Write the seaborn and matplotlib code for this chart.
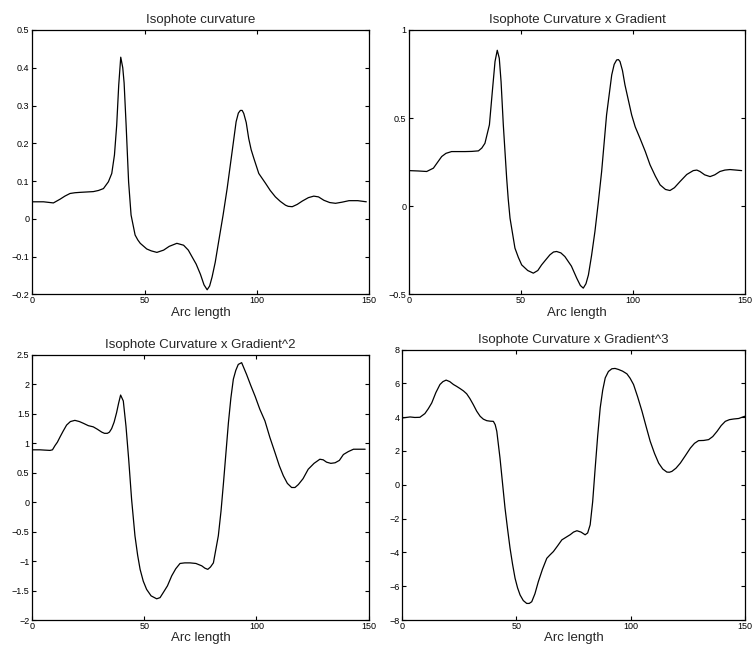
import matplotlib
matplotlib.use("Agg")
import matplotlib.pyplot as plt
import seaborn as sns
import pandas as pd

# ---- data ----
x1 = [0, 5, 9.4, 12.4, 14.5, 16.8, 19, 21.3, 27.2, 29.5, 31.7, 33.9, 35.4, 36.6, 37.6, 38.5,
      39.4, 40.3, 40.9, 41.8, 42.9, 44.0, 45.8, 47, 48.1, 51.0, 53, 55.5, 58.5, 61, 64.4, 67.4,
      69.5, 71.1, 73, 74.9, 76.5, 77.9, 79, 80.1, 81.5, 83.0, 85, 86.8, 89.0, 90.8, 91.8, 92.7,
      93.5, 94.2, 95.3, 96.4, 97.5, 98.7, 100.9, 103.9, 106, 108.3, 110.5, 112.8, 114, 115.8,
      118, 120.3, 123, 125.4, 127.5, 129.9, 132.5, 135.1, 138, 141.1, 145, 148.8]
y1 = [0.045, 0.045, 0.042, 0.052, 0.060, 0.067, 0.069, 0.070, 0.072, 0.075, 0.080, 0.098, 0.120,
      0.169, 0.248, 0.354, 0.428, 0.400, 0.360, 0.248, 0.098, 0.010, -0.043, -0.056, -0.065,
      -0.080, -0.085, -0.089, -0.083, -0.073, -0.065, -0.070, -0.083, -0.100, -0.120, -0.147,
      -0.175, -0.188, -0.178, -0.154, -0.115, -0.061, 0.010, 0.080, 0.177, 0.257, 0.280, 0.287,
      0.287, 0.279, 0.255, 0.213, 0.183, 0.160, 0.120, 0.094, 0.075, 0.058, 0.046, 0.036, 0.033,
      0.032, 0.038, 0.047, 0.056, 0.060, 0.058, 0.049, 0.043, 0.041, 0.044, 0.048, 0.048, 0.045]

x2 = [0, 4, 7.9, 10.9, 12.8, 14.6, 16.5, 19, 25, 28, 31, 32.5, 33.9, 35.9, 37.2, 38.4, 39.4,
      40.3, 41.1, 42.1, 43.6, 44.3, 45.1, 47.3, 48.8, 50.3, 53, 55.5, 57.5, 59.2, 61, 62.9, 64.5,
      65.9, 67.8, 69.6, 72.5, 74.9, 76.5, 77.8, 79, 80.1, 81.5, 83.0, 84.5, 86.0, 88.2, 90.5,
      91.6, 92.7, 93.5, 94.2, 95.3, 96.4, 99.4, 101, 103.1, 105.5, 107.6, 110, 112.1, 114.5,
      116.5, 118.5, 121, 124, 126.9, 128.5, 129.9, 132, 134.4, 136.5, 138.8, 141, 143.3, 146,
      148.5]
y2 = [0.202, 0.200, 0.197, 0.216, 0.250, 0.282, 0.300, 0.310, 0.310, 0.311, 0.314, 0.330,
      0.357, 0.462, 0.651, 0.821, 0.885, 0.840, 0.707, 0.462, 0.159, 0.040, -0.068, -0.238,
      -0.290, -0.333, -0.365, -0.380, -0.365, -0.333, -0.305, -0.276, -0.260, -0.257, -0.265,
      -0.286, -0.340, -0.409, -0.450, -0.465, -0.440, -0.390, -0.280, -0.144, 0.020, 0.197,
      0.518, 0.745, 0.805, 0.830, 0.832, 0.821, 0.770, 0.689, 0.518, 0.450, 0.386, 0.310, 0.235,
      0.170, 0.121, 0.095, 0.089, 0.105, 0.140, 0.180, 0.202, 0.205, 0.197, 0.178, 0.168, 0.178,
      0.197, 0.205, 0.208, 0.205, 0.202]

x3 = [0, 3.4, 5.5, 7.9, 9, 10.1, 11.2, 12.4, 13.8, 15.3, 17, 19, 21, 22.8, 25, 27.2, 29, 31,
      32.2, 33.5, 34.4, 35.4, 36.5, 37.6, 38.5, 39.4, 40.6, 41.8, 43, 44.3, 45.8, 47, 48.1, 49.5,
      51, 53, 55.5, 57, 58.5, 60.3, 62.2, 64, 65.9, 68, 70.4, 73, 75.6, 77, 78.3, 79.5, 80.8, 83,
      84.2, 85.3, 86.4, 87.5, 88.6, 89.7, 90.8, 91.9, 93.4, 95.6, 97.5, 99.4, 101.5, 103.8, 106,
      108.3, 110.2, 112, 113.8, 115.7, 117.2, 118.7, 120.8, 123.1, 125.7, 128.3, 129.8, 131.3,
      133.2, 135.1, 137, 138.8, 141, 143.3, 146, 148.5]
y3 = [0.89, 0.89, 0.885, 0.88, 0.89, 0.96, 1.02, 1.11, 1.21, 1.31, 1.37, 1.39, 1.37, 1.34, 1.30,
      1.28, 1.24, 1.19, 1.17, 1.17, 1.19, 1.25, 1.36, 1.52, 1.68, 1.82, 1.72, 1.29, 0.73, 0.05,
      -0.57, -0.90, -1.14, -1.34, -1.48, -1.59, -1.64, -1.62, -1.53, -1.42, -1.25, -1.13, -1.04,
      -1.03, -1.03, -1.04, -1.08, -1.12, -1.14, -1.10, -1.03, -0.57, -0.15, 0.33, 0.84, 1.35,
      1.77, 2.09, 2.24, 2.34, 2.37, 2.17, 1.98, 1.80, 1.58, 1.38, 1.10, 0.84, 0.62, 0.45, 0.32,
      0.25, 0.25, 0.30, 0.40, 0.56, 0.66, 0.73, 0.72, 0.68, 0.66, 0.67, 0.71, 0.81, 0.86, 0.90,
      0.90, 0.90]

x4 = [0, 3.4, 5.5, 7.7, 9.9, 11.4, 12.9, 14.7, 16.5, 17.8, 19.2, 20.8, 22.4, 23.8, 25.3, 26.8,
      28.2, 29.6, 31.1, 32.6, 34.1, 35.5, 37, 38.5, 39.9, 40.7, 41.4, 42.8, 43.9, 45, 46.1, 47.2,
      48.3, 49.4, 50.5, 51.6, 53, 54.5, 55.6, 56.7, 58.1, 59.6, 61.4, 63.3, 64.7, 66.2, 68, 69.9,
      71.8, 73.6, 75, 76.5, 78.3, 80.1, 81.2, 82.3, 83.4, 84.5, 85.6, 86.7, 87.8, 88.9, 90.3,
      91.8, 93.2, 94.7, 96.5, 98.4, 99.8, 101.3, 103.1, 105, 106.8, 108.6, 110.5, 112.3, 114.1,
      115.9, 117, 118.1, 119.9, 121.8, 124, 126.2, 128, 129.8, 132, 134.2, 136, 137.9, 139.7,
      141.5, 143.3, 145.2, 147.4, 150]
y4 = [3.95, 4.01, 3.98, 3.99, 4.21, 4.50, 4.84, 5.45, 5.93, 6.10, 6.19, 6.10, 5.93, 5.82, 5.69,
      5.55, 5.38, 5.10, 4.74, 4.35, 4.05, 3.88, 3.79, 3.76, 3.75, 3.55, 3.16, 1.58, 0.10, -1.38,
      -2.60, -3.75, -4.70, -5.53, -6.10, -6.52, -6.85, -7.02, -7.02, -6.92, -6.45, -5.73, -5.00,
      -4.35, -4.15, -3.95, -3.62, -3.26, -3.10, -2.95, -2.80, -2.72, -2.80, -2.96, -2.85, -2.37,
      -1.00, 0.99, 2.90, 4.55, 5.60, 6.32, 6.70, 6.86, 6.88, 6.82, 6.72, 6.56, 6.30, 5.93, 5.20,
      4.35, 3.45, 2.57, 1.85, 1.28, 0.93, 0.75, 0.74, 0.79, 0.98, 1.28, 1.72, 2.17, 2.45, 2.61,
      2.62, 2.67, 2.85, 3.16, 3.50, 3.75, 3.85, 3.89, 3.92, 4.05]

titles = ["Isophote curvature", "Isophote Curvature x Gradient",
          "Isophote Curvature x Gradient^2", "Isophote Curvature x Gradient^3"]
xlabel = "Arc length"
xticks = [0, 50, 100, 150]
yticks1 = [-0.2, -0.1, 0, 0.1, 0.2, 0.3, 0.4, 0.5]
yticks2 = [-0.5, 0, 0.5, 1]
yticks3 = [-2, -1.5, -1, -0.5, 0, 0.5, 1, 1.5, 2, 2.5]
yticks4 = [-8, -6, -4, -2, 0, 2, 4, 6, 8]
yticklabels1 = ["\u22120.2", "\u22120.1", "0", "0.1", "0.2", "0.3", "0.4", "0.5"]
yticklabels2 = ["\u22120.5", "0", "0.5", "1"]
yticklabels3 = ["\u22122", "\u22121.5", "\u22121", "\u22120.5", "0", "0.5", "1", "1.5", "2", "2.5"]
yticklabels4 = ["\u22128", "\u22126", "\u22124", "\u22122", "0", "2", "4", "6", "8"]

sns.set_style("ticks")
plt.rcParams["font.family"] = ["Liberation Sans", "DejaVu Sans"]

fig = plt.figure(figsize=(7.52, 6.51), dpi=100)

W, H = 752.0, 651.0
# (left, top, right, bottom) in pixels
boxes = [(32.3, 30, 369, 294.3), (409, 30, 745, 294.3),
         (32.3, 355, 368.5, 620), (402.3, 349.5, 744.7, 620)]
series = [(x1, y1, yticks1, yticklabels1), (x2, y2, yticks2, yticklabels2),
          (x3, y3, yticks3, yticklabels3), (x4, y4, yticks4, yticklabels4)]

for i, ((l, t, r, b), (xs, ys, yt, ytl)) in enumerate(zip(boxes, series)):
    ax = fig.add_axes([l / W, 1 - b / H, (r - l) / W, (b - t) / H])
    df = pd.DataFrame({"x": xs, "y": ys})
    sns.lineplot(data=df, x="x", y="y", ax=ax, color="black", linewidth=0.9,
                 estimator=None, sort=True)
    for ln in ax.get_lines():
        ln.set_solid_joinstyle("round")
    ax.set_xlim(0, 150)
    ax.set_ylim(yt[0], yt[-1])
    ax.set_xticks(xticks)
    ax.set_xticklabels([str(v) for v in xticks])
    ax.set_yticks(yt)
    ax.set_yticklabels(ytl)
    ax.tick_params(direction="in", top=True, right=True, length=3, width=0.8,
                   labelsize=6.5, colors="black")
    ax.tick_params(axis="x", pad=1.5)
    ax.tick_params(axis="y", pad=2)
    for sp in ax.spines.values():
        sp.set_visible(True)
        sp.set_linewidth(0.9)
        sp.set_color("black")
    ax.set_title(titles[i], fontsize=9.5, pad=5)
    ax.set_xlabel(xlabel, fontsize=9.5, labelpad=1)
    ax.set_ylabel("")

fig.savefig("out.png", dpi=100)
